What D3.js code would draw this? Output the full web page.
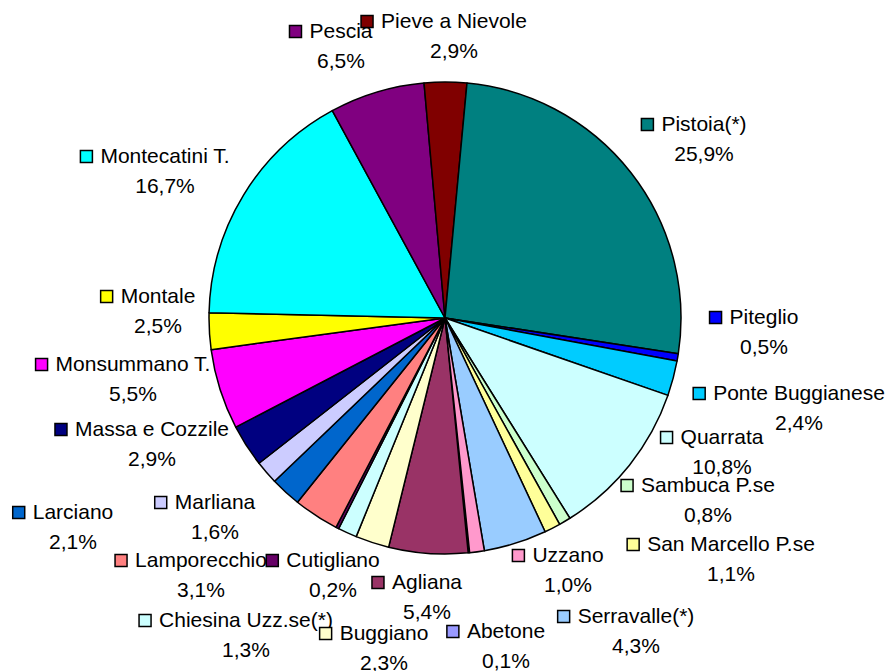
<!DOCTYPE html>
<html>
<head>
<meta charset="utf-8">
<script src="https://cdn.jsdelivr.net/npm/d3@7"></script>
<style>
  body { margin: 0; background: #fff; }
  text { font-family: "Liberation Sans", Arial, sans-serif; font-size: 21px; fill: #000; }
</style>
</head>
<body>
<div id="chart"></div>
<script>
// comuni, in the order the sheet lists them
var comuni = ["Abetone", "Agliana", "Buggiano", "Chiesina Uzz.se(*)", "Cutigliano",
  "Lamporecchio", "Larciano", "Marliana", "Massa e Cozzile", "Monsummano T.",
  "Montale", "Montecatini T.", "Pescia", "Pieve a Nievole", "Pistoia(*)",
  "Piteglio", "Ponte Buggianese", "Quarrata", "Sambuca P.se", "San Marcello P.se",
  "Serravalle(*)", "Uzzano"];

// share of the province (%)
var quote = [0.1, 5.4, 2.3, 1.3, 0.2, 3.1, 2.1, 1.6, 2.9, 5.5,
  2.5, 16.7, 6.5, 2.9, 25.9, 0.5, 2.4, 10.8, 0.8, 1.1, 4.3, 1.0];

// classic excel fill order
var colori = ["#9999FF", "#993366", "#FFFFCC", "#CCFFFF", "#660066", "#FF8080",
  "#0066CC", "#CCCCFF", "#000080", "#FF00FF", "#FFFF00", "#00FFFF", "#800080",
  "#800000", "#008080", "#0000FF", "#00CCFF", "#CCFFFF", "#CCFFCC", "#FFFF99",
  "#99CCFF", "#FF99CC"];

// where excel put each data label: [centre x of name, baseline of name]
var labelAt = [[506, 638], [427, 589], [384, 640], [246, 627], [333, 567],
  [201, 567], [73, 519], [215, 509], [152, 436], [133, 371],
  [158, 303], [165, 163], [341, 38], [454, 28], [704, 131],
  [764, 324], [799, 400], [722, 444], [708, 492], [731, 551],
  [636, 623], [568, 562]];

var svgWidth = 888;
var svgHeight = 671;
var cx = 445, cy = 318, radius = 236;
var firstAngle = 174; // degrees, like excel's "angle of first slice"

var svg = d3.select("#chart")
  .append("svg")
  .attr("width", svgWidth)
  .attr("height", svgHeight);

var data = comuni.map(function(c, i) {
  return { name: c, value: quote[i], color: colori[i], pos: labelAt[i] };
});

var start = firstAngle * Math.PI / 180;
var pie = d3.pie()
  .sort(null)
  .value(d => d.value)
  .startAngle(start)
  .endAngle(start + 2 * Math.PI);

var arc = d3.arc().innerRadius(0).outerRadius(radius);

var pieGroup = svg.append("g")
  .attr("transform", `translate(${cx}, ${cy})`);

pieGroup.selectAll("path")
  .data(pie(data))
  .enter()
  .append("path")
  .attr("d", arc)
  .attr("fill", d => d.data.color)
  .attr("stroke", "#000")
  .attr("stroke-width", 1.5)
  .attr("stroke-linejoin", "round");

var fmt = d3.formatLocale({ decimal: ",", thousands: ".", grouping: [3], currency: ["", "€"] }).format(".1f");

// label text first, keys on top (the keys overlap some words in the original)
var labels = svg.append("g");
var names = labels.selectAll("text.name")
  .data(data)
  .enter()
  .append("text")
  .attr("class", "name")
  .attr("x", d => d.pos[0])
  .attr("y", d => d.pos[1])
  .attr("text-anchor", "middle")
  .text(d => d.name);

labels.selectAll("text.pct")
  .data(data)
  .enter()
  .append("text")
  .attr("class", "pct")
  .attr("x", d => d.pos[0])
  .attr("y", d => d.pos[1] + 30)
  .attr("text-anchor", "middle")
  .text(d => fmt(d.value) + "%");

var keys = svg.append("g");
names.each(function(d) {
  var w = this.getComputedTextLength();
  keys.append("rect")
    .attr("x", d.pos[0] - w / 2 - 20)
    .attr("y", d.pos[1] - 12.5)
    .attr("width", 12)
    .attr("height", 12)
    .attr("fill", d.color)
    .attr("stroke", "#000")
    .attr("stroke-width", 1.5);
});
</script>
</body>
</html>
